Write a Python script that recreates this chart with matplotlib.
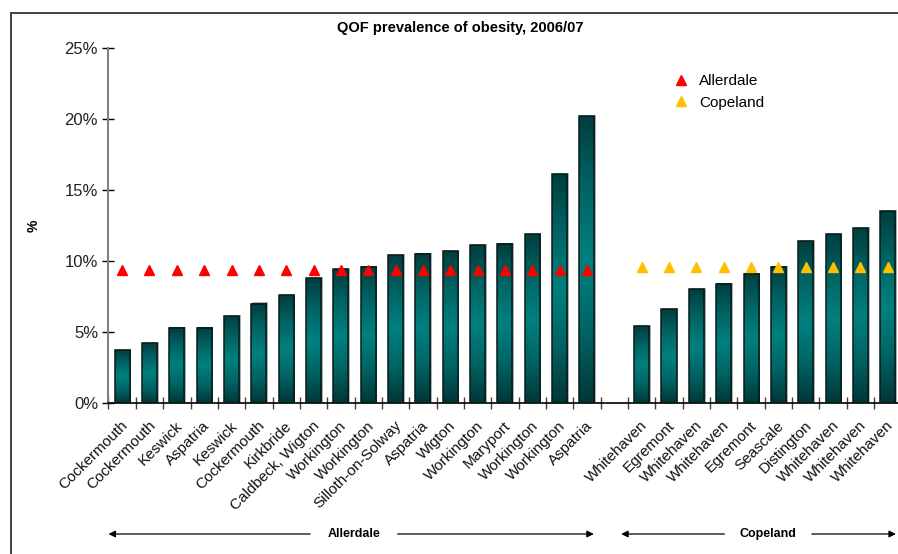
import matplotlib.pyplot as plt
import matplotlib.transforms as mtransforms
from matplotlib.colors import LinearSegmentedColormap
from matplotlib.patches import Rectangle
import numpy as np

plt.rcParams['font.family'] = ['Liberation Sans', 'DejaVu Sans']

# practices by locality, sorted by prevalence within each district
allerdale_names = ['Cockermouth', 'Cockermouth', 'Keswick', 'Aspatria', 'Keswick',
                   'Cockermouth', 'Kirkbride', 'Caldbeck, Wigton', 'Workington',
                   'Workington', 'Silloth-on-Solway', 'Aspatria', 'Wigton',
                   'Workington', 'Maryport', 'Workington', 'Workington', 'Aspatria']
allerdale_vals = [3.7, 4.2, 5.3, 5.3, 6.1, 7.0, 7.6, 8.8, 9.4, 9.6, 10.4, 10.5,
                  10.7, 11.1, 11.2, 11.9, 16.1, 20.2]
allerdale_avg = 9.35

copeland_names = ['Whitehaven', 'Egremont', 'Whitehaven', 'Whitehaven', 'Egremont',
                  'Seascale', 'Distington', 'Whitehaven', 'Whitehaven', 'Whitehaven']
copeland_vals = [5.4, 6.6, 8.0, 8.4, 9.1, 9.6, 11.4, 11.9, 12.3, 13.5]
copeland_avg = 9.55

n_a = len(allerdale_vals)
x_a = np.arange(n_a)
x_c = np.arange(len(copeland_vals)) + n_a + 1  # one empty slot between districts
labels = allerdale_names + [''] + copeland_names
n_slots = len(labels)

fig = plt.figure(figsize=(8.98, 5.54), dpi=100)
ax = fig.add_axes([0.1208, 0.2726, 0.8830, 0.6408])

# outer frame round the chart
fig.add_artist(Rectangle((11 / 898, -0.1), 1.2, 1 - 13 / 554 + 0.1,
                         transform=fig.transFigure, fill=False,
                         edgecolor='#404040', linewidth=1.4))

cmap = LinearSegmentedColormap.from_list(
    'cyl', ['#003636', '#006464', '#008080', '#006464', '#003e3e'])
grad = np.linspace(0, 1, 256).reshape(-1, 1)
width = 0.55

def gradient_bars(xs, vals):
    for x, v in zip(xs, vals):
        # soft shadow to the right and top
        ax.add_patch(Rectangle((x - width / 2 + 0.06, 0), width, v + 0.08,
                               facecolor='#b0b0b0', edgecolor='none', zorder=1))
        ax.imshow(grad, extent=[x - width / 2, x + width / 2, 0, v], origin='lower',
                  aspect='auto', cmap=cmap, zorder=2, interpolation='bilinear')
        ax.add_patch(Rectangle((x - width / 2, 0), width, v, facecolor='none',
                               edgecolor='#0a1a1a', linewidth=1.1, zorder=3))

gradient_bars(x_a, allerdale_vals)
gradient_bars(x_c, copeland_vals)

ax.plot(x_a, [allerdale_avg] * n_a, linestyle='none', marker='^', color='#ff0000',
        markersize=7, zorder=4, label='Allerdale')
ax.plot(x_c, [copeland_avg] * len(x_c), linestyle='none', marker='^', color='#ffc000',
        markersize=7, zorder=4, label='Copeland')

ax.set_xlim(-0.5, n_slots - 0.5)
ax.set_ylim(0, 25)
ax.set_yticks(np.arange(0, 26, 5))
ax.set_yticklabels(['%d%%' % v for v in range(0, 26, 5)], fontsize=12, color='#222222')
ax.tick_params(axis='y', direction='inout', length=9, width=1, pad=3)

# ticks sit on the slot boundaries, labels under the bar centres
ax.set_xticks(np.arange(n_slots + 1) - 0.5)
ax.set_xticklabels([])
ax.tick_params(axis='x', direction='inout', length=9, width=1, color='#404040')
for i, lab in enumerate(labels):
    ax.text(i - 0.05, -1.1, lab, rotation=45, ha='right', va='top',
            rotation_mode='anchor', fontsize=11, color='#111111',
            transform=ax.transData)

for side in ['top', 'right']:
    ax.spines[side].set_visible(False)
ax.spines['left'].set_color('#808080')
ax.spines['left'].set_linewidth(1.5)
ax.spines['bottom'].set_color('black')
ax.spines['bottom'].set_linewidth(1.2)

ax.set_ylabel('%', fontsize=10, fontweight='bold')
ax.yaxis.set_label_coords(-0.086, 0.5)
fig.text(0.512, 1 - 28 / 554, 'QOF prevalence of obesity, 2006/07', ha='center',
         va='center', fontsize=10.5, fontweight='bold')

ax.legend(loc='upper left', bbox_to_anchor=(0.693, 0.965), frameon=False, fontsize=11,
          handletextpad=0.6, labelspacing=0.5, handlelength=1.2)

# district brackets below the labels
trans = mtransforms.blended_transform_factory(ax.transData, fig.transFigure)
y_br = 1 - 534 / 554
brackets = [('Allerdale', -0.5, n_a - 0.75, 0.1), ('Copeland', n_a + 0.25, n_slots - 0.7, 0.35)]
for name, start, end, shift in brackets:
    mid = (start + end) / 2 + shift
    gap = 1.6
    for tip in (start, end):
        tail = mid - gap if tip < mid else mid + gap
        ax.annotate('', xy=(tip, y_br), xytext=(tail, y_br), xycoords=trans,
                    textcoords=trans, annotation_clip=False,
                    arrowprops=dict(arrowstyle='-|>', color='black', lw=0.9,
                                    mutation_scale=10, shrinkA=0, shrinkB=0))
    ax.text(mid, y_br, name, transform=trans, ha='center', va='center',
            fontsize=9, fontweight='bold')

fig.savefig('out.png', dpi=100)
